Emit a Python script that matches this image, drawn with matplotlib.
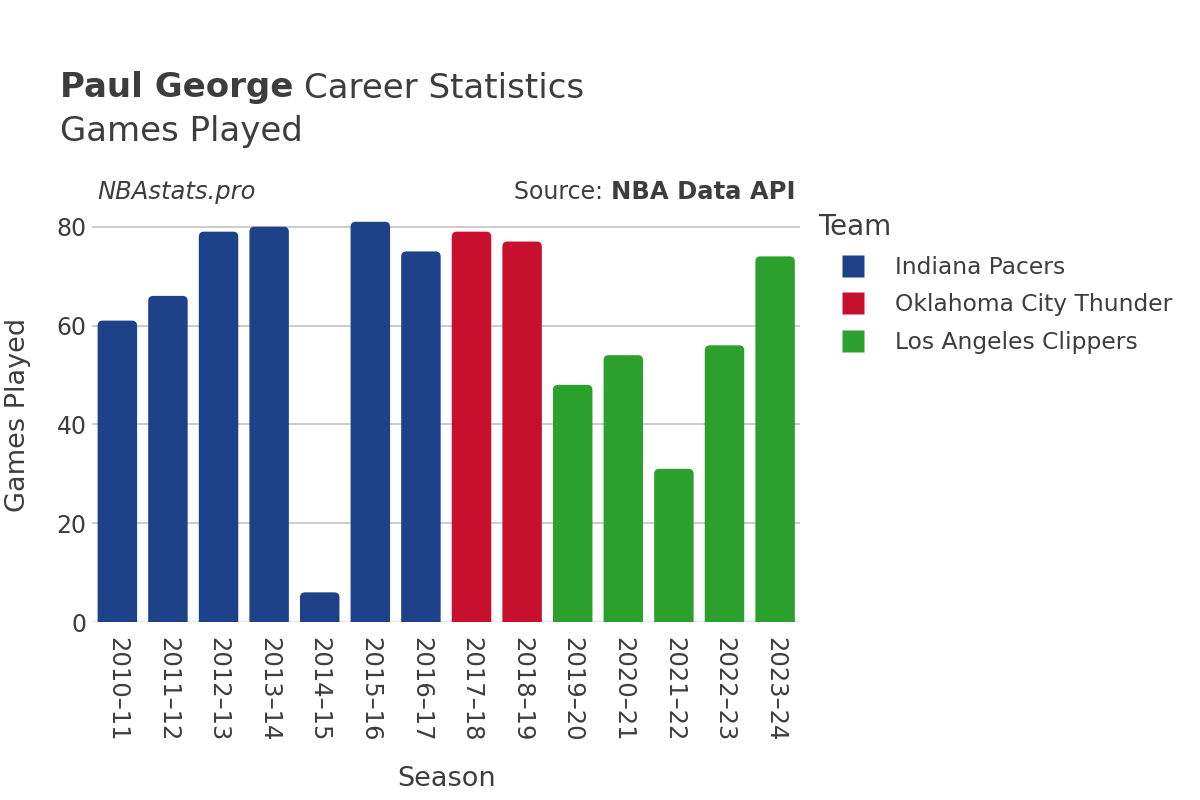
import matplotlib
matplotlib.use('Agg')
import matplotlib.pyplot as plt
from matplotlib.patches import FancyBboxPatch
from matplotlib.lines import Line2D

seasons = ['2010–11', '2011–12', '2012–13', '2013–14', '2014–15', '2015–16', '2016–17',
           '2017–18', '2018–19', '2019–20', '2020–21', '2021–22', '2022–23', '2023–24']
games = [61, 66, 79, 80, 6, 81, 75, 79, 77, 48, 54, 31, 56, 74]
teams = ['Indiana Pacers'] * 7 + ['Oklahoma City Thunder'] * 2 + ['Los Angeles Clippers'] * 5
team_names = ['Indiana Pacers', 'Oklahoma City Thunder', 'Los Angeles Clippers']
team_colors = {'Indiana Pacers': '#1d4289', 'Oklahoma City Thunder': '#c8102e',
               'Los Angeles Clippers': '#2ca02c'}

text_color = '#3d3d3d'
plt.rcParams['font.family'] = ['DejaVu Sans']

fig = plt.figure(figsize=(12, 8), dpi=100)
ax = fig.add_axes([0.0767, 0.2225, 0.5903, 0.5188])

index = range(len(seasons))
bars = ax.bar(index, games, 0.78, color=[team_colors[t] for t in teams], zorder=3)

ax.set_xlim(-0.5, len(seasons) - 0.5)
ax.set_ylim(0, 84)

# rounded tops: replace each rectangle with a rounded box that extends below zero
fig.canvas.draw()
p0 = ax.transData.transform((0, 0))
p1 = ax.transData.transform((1, 1))
aspect = (p1[0] - p0[0]) / (p1[1] - p0[1])
for rect in bars:
    x, w, h = rect.get_x(), rect.get_width(), rect.get_height()
    box = FancyBboxPatch((x, -5), w, h + 5,
                         boxstyle='round,pad=0,rounding_size=0.1',
                         mutation_aspect=aspect,
                         facecolor=rect.get_facecolor(), edgecolor='none', zorder=3)
    ax.add_patch(box)
    rect.set_visible(False)

ax.set_yticks([0, 20, 40, 60, 80])
ax.yaxis.grid(True, color='#c4c4c4', linewidth=1.2, zorder=0)
ax.axhline(0, color='#e6e6e6', linewidth=2.5, zorder=2)
for s in ax.spines.values():
    s.set_visible(False)

ax.set_xticks(list(index))
ax.set_xticklabels(seasons, rotation=-90, ha='center', va='top')
ax.tick_params(axis='x', length=0, pad=11, labelsize=17.5, colors=text_color)
ax.tick_params(axis='y', length=0, pad=4, labelsize=17, colors=text_color)

ax.set_xlabel('Season', fontsize=19.5, color=text_color, labelpad=17)
ax.set_ylabel('Games Played', fontsize=19.5, color=text_color, labelpad=18)

fig.text(0.05, 0.89, 'Paul George', fontsize=24.5, fontweight='bold', color=text_color, va='center')
fig.text(0.2535, 0.89, 'Career Statistics', fontsize=24.5, color=text_color, va='center')
fig.text(0.05, 0.835, 'Games Played', fontsize=24.5, color=text_color, va='center')

ax.text(0.008, 1.036, 'NBAstats.pro', transform=ax.transAxes, fontsize=17.5,
        fontstyle='italic', color=text_color, va='center', ha='left')
src_bold = ax.text(0.993, 1.036, 'NBA Data API', transform=ax.transAxes, fontsize=17.5,
                   fontweight='bold', color=text_color, va='center', ha='right')
fig.canvas.draw()
bb = src_bold.get_window_extent()
fig.text(bb.x0 / fig.bbox.width, bb.y0 / fig.bbox.height + (bb.height / 2) / fig.bbox.height,
         'Source: ', fontsize=17, color=text_color, va='center', ha='right')

handles = [Line2D([], [], linestyle='none', marker='s', markersize=16.5,
                  markerfacecolor=team_colors[t], markeredgecolor='none') for t in team_names]
leg = fig.legend(handles, team_names, title='Team', loc='upper left',
                 bbox_to_anchor=(0.674, 0.745), frameon=False, fontsize=16.8,
                 title_fontsize=20, labelspacing=0.62, handlelength=3.0,
                 handletextpad=0.3, borderaxespad=0)
leg._legend_box.align = 'left'
for t in leg.get_texts():
    t.set_color(text_color)
leg.get_title().set_color(text_color)

fig.savefig('out.png', dpi=100)
